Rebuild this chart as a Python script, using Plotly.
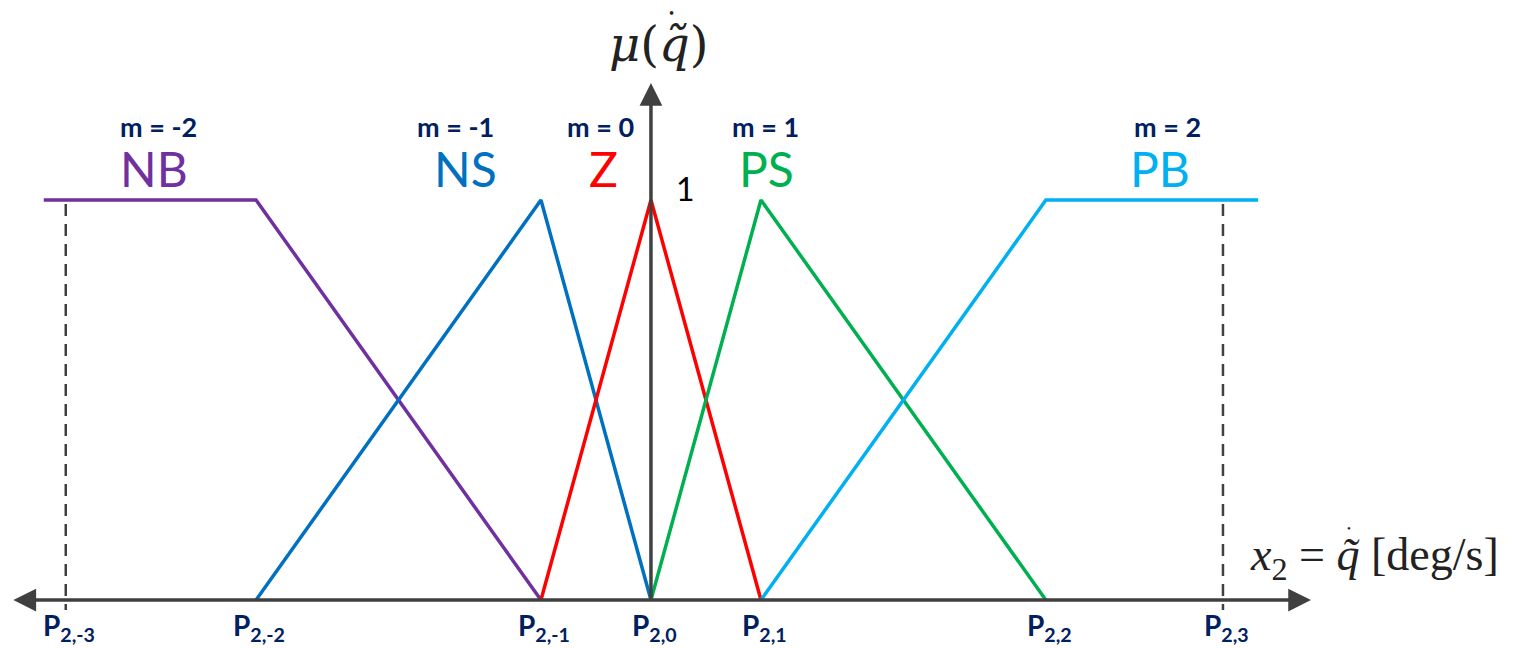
import plotly.graph_objects as go

# ---- data ----
breakpoints = [-5.32, -3.59, -1.0, 0.0, 1.0, 3.59, 5.2]
tick_labels = ["P<sub>2,-3</sub>", "P<sub>2,-2</sub>", "P<sub>2,-1</sub>", "P<sub>2,0</sub>",
               "P<sub>2,1</sub>", "P<sub>2,2</sub>", "P<sub>2,3</sub>"]
set_names = ["NB", "NS", "Z", "PS", "PB"]
m_values = [-2, -1, 0, 1, 2]
set_colors = ["#7030A0", "#0070C0", "#FF0000", "#00B050", "#00B0F0"]
outer_extent = [-5.52, 5.52]

nb_x = [outer_extent[0], breakpoints[1], breakpoints[2]]
nb_y = [1, 1, 0]
ns_x = [breakpoints[1], breakpoints[2], breakpoints[3]]
ns_y = [0, 1, 0]
z_x = [breakpoints[2], breakpoints[3], breakpoints[4]]
z_y = [0, 1, 0]
ps_x = [breakpoints[3], breakpoints[4], breakpoints[5]]
ps_y = [0, 1, 0]
pb_x = [breakpoints[4], breakpoints[5], outer_extent[1]]
pb_y = [0, 1, 1]
series_x = [nb_x, ns_x, z_x, ps_x, pb_x]
series_y = [nb_y, ns_y, z_y, ps_y, pb_y]

# label positions (x of m-label, x of set name)
m_label_x = [-4.48, -1.78, -0.46, 1.04, 4.70]
name_label_x = [-4.52, -1.69, -0.43, 1.05, 4.63]

fig = go.Figure()

axis_color = "#404040"

# dashed lines at outer breakpoints
for xb in [breakpoints[0], breakpoints[-1]]:
    fig.add_trace(go.Scatter(x=[xb, xb], y=[0.99, -0.025], mode="lines",
                             line=dict(color=axis_color, width=2.5, dash="12px,8px"),
                             hoverinfo="skip", showlegend=False))

for xs, ys, c in zip(series_x, series_y, set_colors):
    fig.add_trace(go.Scatter(x=xs, y=ys, mode="lines",
                             line=dict(color=c, width=3.5),
                             hoverinfo="skip", showlegend=False))

annotations = []
# horizontal axis (double arrow)
annotations.append(dict(x=6.0, y=0, ax=-5.81, ay=0, xref="x", yref="y", axref="x", ayref="y",
                        showarrow=True, arrowhead=2, startarrowhead=2, arrowside="end+start",
                        arrowsize=1.3, startarrowsize=1.3, arrowwidth=3.5, arrowcolor=axis_color, text=""))
# vertical axis
annotations.append(dict(x=0, y=1.2925, ax=0, ay=0, xref="x", yref="y", axref="x", ayref="y",
                        showarrow=True, arrowhead=2, arrowsize=1.3, arrowwidth=3.5,
                        arrowcolor=axis_color, text=""))

for mx, nx, name, m, c in zip(m_label_x, name_label_x, set_names, m_values, set_colors):
    annotations.append(dict(x=mx, y=1.185, xref="x", yref="y", showarrow=False,
                            text=f"<b>m = {m}</b>",
                            font=dict(family="Lato", size=27, color="#002060")))
    annotations.append(dict(x=nx, y=1.078, xref="x", yref="y", showarrow=False,
                            text=name, font=dict(family="Lato", size=48, color=c)))

for xb, lab in zip(breakpoints, tick_labels):
    annotations.append(dict(x=xb + 0.03, y=-0.068, xref="x", yref="y", showarrow=False,
                            text=f"<b>{lab}</b>",
                            font=dict(family="Lato", size=28, color="#002060")))

annotations.append(dict(x=0.31, y=1.03, xref="x", yref="y", showarrow=False, text="1",
                        font=dict(family="Lato", size=32, color="black")))
# y-axis title  mu(q~dot)
annotations.append(dict(x=0.064, y=1.39, xref="x", yref="y", showarrow=False,
                        text="<i>μ</i>(<i>q\u0303</i>)",
                        font=dict(family="DejaVu Serif", size=48, color="#222222")))
annotations.append(dict(x=0.19, y=1.465, xref="x", yref="y", showarrow=False,
                        text="•", font=dict(family="DejaVu Serif", size=12, color="#222222")))
# x-axis title
annotations.append(dict(x=6.58, y=0.105, xref="x", yref="y", showarrow=False,
                        text="<i>x</i><sub>2</sub> = <i>q\u0303</i> [deg/s]",
                        font=dict(family="Liberation Serif", size=46, color="#222222")))
annotations.append(dict(x=6.345, y=0.18, xref="x", yref="y", showarrow=False,
                        text="•", font=dict(family="Liberation Serif", size=11, color="#222222")))

# ranges chosen so that the page's default 8px body margin is compensated
fig.update_layout(
    width=1520, height=648,
    margin=dict(l=0, r=0, t=0, b=0),
    paper_bgcolor="white", plot_bgcolor="white",
    xaxis=dict(range=[-5.845, 7.973], visible=False, fixedrange=True),
    yaxis=dict(range=[-0.14, 1.48], visible=False, fixedrange=True),
    annotations=annotations,
    showlegend=False,
)

fig.write_html("out.html")
